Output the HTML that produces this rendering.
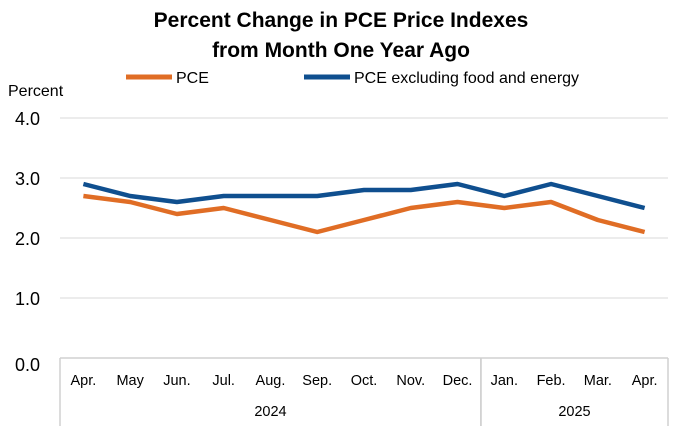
<!DOCTYPE html>
<html><head><meta charset="utf-8"><style>
body{margin:0;background:#fff;width:682px;height:432px;overflow:hidden;font-family:"Liberation Sans",sans-serif}
</style></head><body>
<svg id="chart" width="682" height="432" font-family="Liberation Sans, sans-serif">
<text x="341" y="27" text-anchor="middle" font-size="21" font-weight="bold" fill="#000">Percent Change in PCE Price Indexes</text>
<text x="341" y="57" text-anchor="middle" font-size="21" font-weight="bold" fill="#000">from Month One Year Ago</text>
<text x="8" y="96" font-size="16" fill="#000">Percent</text>
<g>
<line x1="126" y1="77" x2="172" y2="77" stroke="#E06D25" stroke-width="5"/>
<text x="176" y="83" font-size="16">PCE</text>
<line x1="304" y1="77" x2="350" y2="77" stroke="#0F4F8F" stroke-width="5"/>
<text x="354" y="83" font-size="16">PCE excluding food and energy</text>
</g>
<g id="grid"></g><g id="xaxis"></g><g id="series"></g>
</svg>
<script>
const categories=["Apr.","May","Jun.","Jul.","Aug.","Sep.","Oct.","Nov.","Dec.","Jan.","Feb.","Mar.","Apr."];
const pceValues=[2.7,2.6,2.4,2.5,2.3,2.1,2.3,2.5,2.6,2.5,2.6,2.3,2.1];
const coreValues=[2.9,2.7,2.6,2.7,2.7,2.7,2.8,2.8,2.9,2.7,2.9,2.7,2.5];
const yTicks=[0,1,2,3,4];
const years=[{label:"2024",start:0,end:9},{label:"2025",start:9,end:13}];
const NS="http://www.w3.org/2000/svg";
const L=60,R=668,Y0=358,PX=60;
const bw=(R-L)/categories.length;
const xs=i=>L+bw*(i+0.5);
const ys=v=>Y0-v*PX;
function mk(t,a,p){const e=document.createElementNS(NS,t);for(const k in a)e.setAttribute(k,a[k]);p.appendChild(e);return e;}
const grid=document.getElementById('grid'),xa=document.getElementById('xaxis'),se=document.getElementById('series');
yTicks.forEach(v=>{
 if(v>0){const g=mk('line',{x1:L,x2:R,y1:ys(v),y2:ys(v),stroke:'#d9d9d9','stroke-width':1},grid);
 
 }
 const t=mk('text',{x:40,y:ys(v)+7+(v===0?6:0),'text-anchor':'end','font-size':18},grid);t.textContent=v.toFixed(1);
 
 
});
const ax=mk('line',{x1:L,x2:R,y1:Y0,y2:Y0,stroke:'#d0d0d0','stroke-width':1.5},xa);


categories.forEach((c,i)=>{const t=mk('text',{x:xs(i),y:385,'text-anchor':'middle','font-size':14.5},xa);t.textContent=c;
 
 });
years.forEach((y,j)=>{
 [y.start,y.end].forEach(k=>{const l=mk('line',{x1:L+bw*k,x2:L+bw*k,y1:Y0,y2:426,stroke:'#d0d0d0','stroke-width':1.5},xa);
 
 });
 const t=mk('text',{x:L+bw*(y.start+y.end)/2,y:416,'text-anchor':'middle','font-size':14.5},xa);t.textContent=y.label;
 
 
});
function line(vals,col,name){const p=mk('polyline',{points:vals.map((v,i)=>xs(i)+','+ys(v)).join(' '),fill:'none',stroke:col,'stroke-width':4.5,'stroke-linejoin':'round'},se);
 
 }
line(pceValues,'#E06D25','pce-line');
line(coreValues,'#0F4F8F','core-pce-line');
</script>
</body></html>
